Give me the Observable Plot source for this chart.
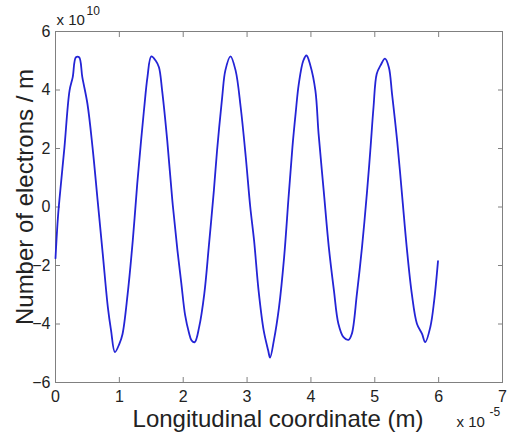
<!DOCTYPE html>
<html>
<head>
<meta charset="utf-8">
<script src="https://cdn.jsdelivr.net/npm/d3@7"></script>
<script src="https://cdn.jsdelivr.net/npm/@observablehq/plot@0.6"></script>
<style>
  html, body { margin: 0; padding: 0; background: #fff; }
  #chart { width: 507px; height: 434px; overflow: hidden; }
</style>
</head>
<body>
<div id="chart"></div>
<script>
// Longitudinal coordinate (units of 1e-5 m)
const xPos = [0.00, 0.04, 0.09, 0.14, 0.22, 0.27, 0.32, 0.37, 0.42, 0.50, 0.58, 0.66, 0.74, 0.82, 0.87, 0.93, 1.00, 1.05, 1.13, 1.21, 1.28, 1.34, 1.39, 1.44, 1.50, 1.57, 1.62, 1.67, 1.75, 1.83, 1.91, 1.97, 2.03, 2.09, 2.13, 2.18, 2.25, 2.33, 2.40, 2.48, 2.53, 2.61, 2.66, 2.74, 2.82, 2.90, 2.98, 3.05, 3.11, 3.18, 3.26, 3.33, 3.36, 3.42, 3.50, 3.58, 3.65, 3.71, 3.76, 3.81, 3.88, 3.93, 3.99, 4.07, 4.12, 4.20, 4.28, 4.36, 4.43, 4.51, 4.59, 4.64, 4.72, 4.80, 4.88, 4.93, 4.98, 5.03, 5.09, 5.16, 5.22, 5.27, 5.35, 5.43, 5.50, 5.58, 5.66, 5.74, 5.79, 5.87, 5.93, 5.99];
// Number of electrons / m (units of 1e10)
const electrons = [-1.75, -0.30, 0.90, 2.04, 3.98, 4.44, 5.12, 5.12, 4.44, 3.53, 2.04, 0.22, -1.60, -3.43, -4.22, -4.96, -4.68, -4.34, -2.97, -1.15, 0.79, 2.27, 3.41, 4.44, 5.15, 5.00, 4.78, 3.98, 2.27, 0.22, -1.49, -2.60, -3.70, -4.30, -4.56, -4.62, -4.10, -2.97, -1.37, 0.56, 1.93, 3.75, 4.67, 5.15, 4.67, 3.41, 1.70, 0.00, -1.15, -2.85, -4.22, -4.90, -5.15, -4.56, -3.43, -1.72, 0.34, 2.04, 3.19, 4.21, 5.00, 5.18, 4.85, 3.98, 2.50, 0.56, -1.37, -2.85, -3.99, -4.45, -4.54, -4.34, -2.97, -1.37, 0.56, 1.93, 3.41, 4.55, 4.84, 5.07, 4.78, 3.87, 2.27, 0.34, -1.37, -2.97, -3.99, -4.34, -4.62, -4.10, -3.20, -1.85];

const xTicks = [0, 1, 2, 3, 4, 5, 6, 7];
const yTicks = [-6, -4, -2, 0, 2, 4, 6];
const xLabel = "Longitudinal coordinate (m)";
const yLabel = "Number of electrons / m";
const yExpBase = "x 10", yExpPow = "10";
const xExpBase = "x 10", xExpPow = "-5";

const data = xPos.map((x, i) => ({x, y: electrons[i]}));

const axisColor = "#808080";
const textColor = "#222";

const chart = Plot.plot({
  width: 507,
  height: 434,
  marginLeft: 55,
  marginRight: 5,
  marginTop: 31,
  marginBottom: 52,
  style: {fontFamily: "'Liberation Sans', Arial, sans-serif", fontSize: "16px", color: textColor, background: "#fff", overflow: "visible"},
  x: {domain: [0, 7]},
  y: {domain: [-6, 6]},
  marks: [
    Plot.frame({stroke: axisColor, strokeWidth: 1}),
    Plot.axisX(xTicks, {anchor: "bottom", tickSize: -5, tickPadding: 13, stroke: axisColor, fill: textColor, fontSize: 16, label: null}),
    Plot.axisX(xTicks, {anchor: "top", tickSize: -5, tickFormat: () => "", stroke: axisColor, label: null}),
    Plot.axisY(yTicks, {anchor: "left", tickSize: -5, tickPadding: 10, stroke: axisColor, fill: textColor, fontSize: 16, label: null}),
    Plot.axisY(yTicks, {anchor: "right", tickSize: -5, tickFormat: () => "", stroke: axisColor, label: null}),
    Plot.line(data, {x: "x", y: "y", stroke: "#2424d6", strokeWidth: 1.8, curve: "catmull-rom"}),
    Plot.text([xLabel], {frameAnchor: "bottom", dx: -1, dy: 37, fontSize: 24, lineAnchor: "middle", textAnchor: "middle", fill: textColor}),
    Plot.text([yLabel], {frameAnchor: "left", dx: -30, dy: -10, rotate: -90, fontSize: 24, lineAnchor: "middle", textAnchor: "middle", fill: textColor}),
    Plot.text([yExpBase], {frameAnchor: "top-left", dx: 1, dy: -11, fontSize: 15, lineAnchor: "middle", textAnchor: "start", fill: textColor}),
    Plot.text([yExpPow], {frameAnchor: "top-left", dx: 31, dy: -20, fontSize: 12, lineAnchor: "middle", textAnchor: "start", fill: textColor}),
    Plot.text([xExpBase], {frameAnchor: "bottom-right", dx: -46, dy: 40, fontSize: 15, lineAnchor: "middle", textAnchor: "start", fill: textColor}),
    Plot.text([xExpPow], {frameAnchor: "bottom-right", dx: -13, dy: 30, fontSize: 12, lineAnchor: "middle", textAnchor: "start", fill: textColor})
  ]
});
document.getElementById("chart").appendChild(chart);
</script>
</body>
</html>
